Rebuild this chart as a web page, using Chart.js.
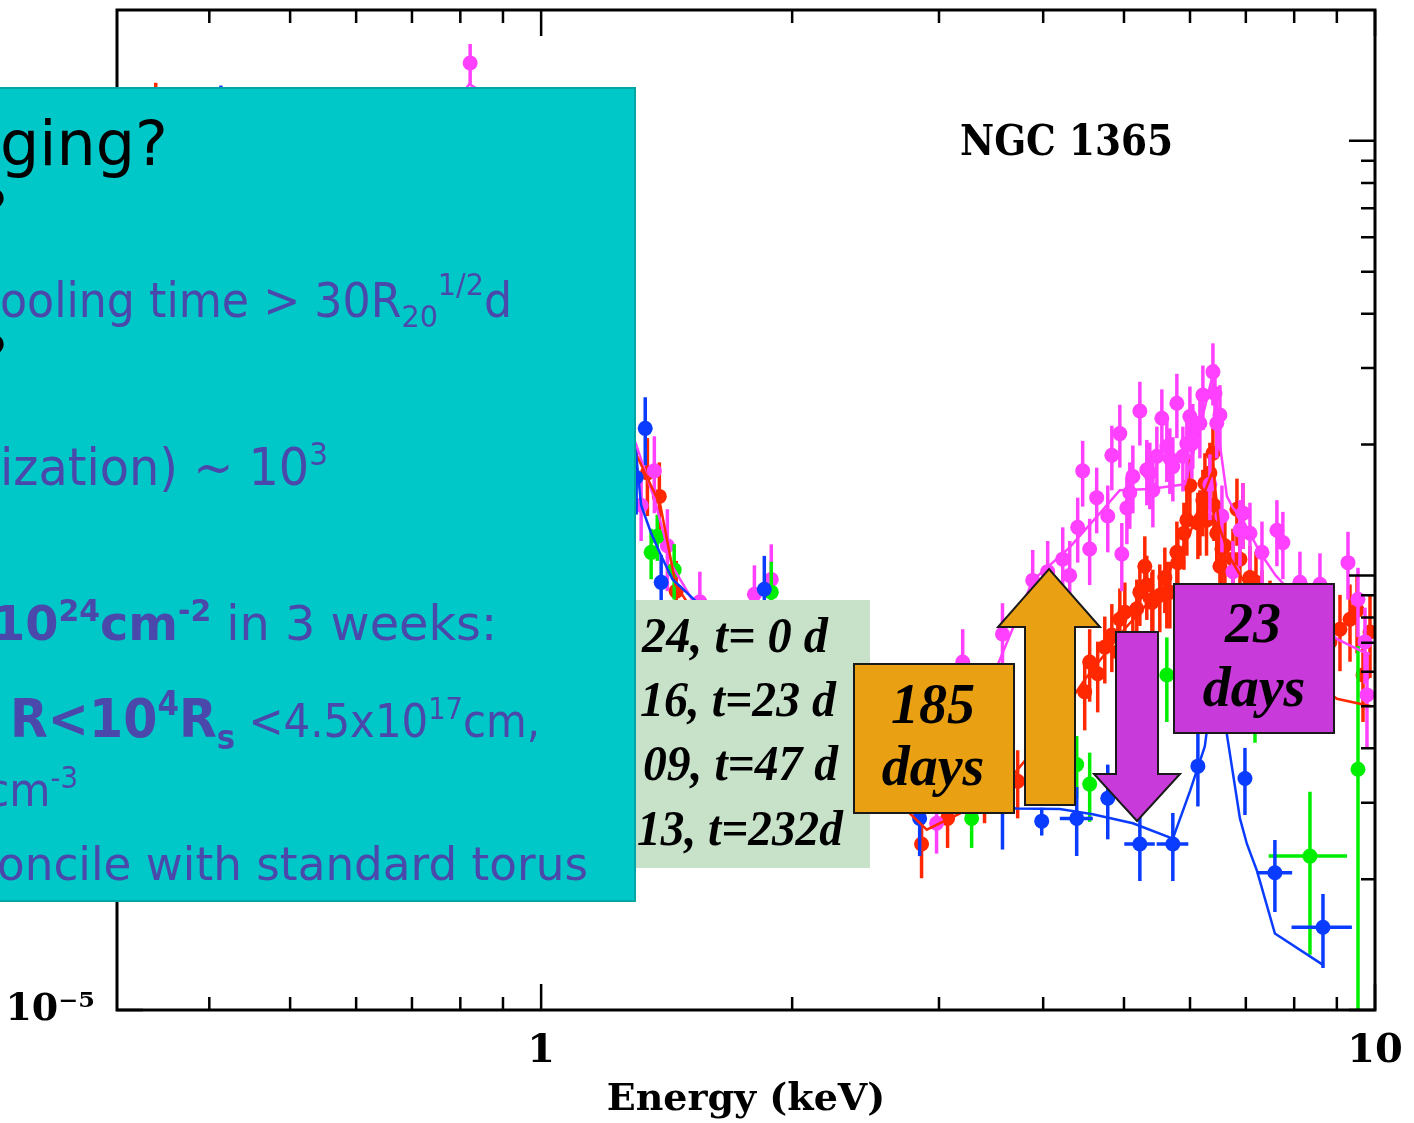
<!DOCTYPE html>
<html>
<head>
<meta charset="utf-8">
<title>NGC 1365</title>
<script src="https://cdn.jsdelivr.net/npm/chart.js@4.4.1/dist/chart.umd.min.js"></script>
<style>
  body { margin: 0; background: #fff; }
  #wrap { position: relative; width: 1414px; height: 1123px; overflow: hidden; }
  #plot { position: absolute; left: 0; top: 0; }
  #slide { position: absolute; left: 0; top: 0; }
</style>
</head>
<body>
<div id="wrap">
  <canvas id="plot" width="1414" height="1123"></canvas>
  <svg id="slide" width="1414" height="1123"></svg>
</div>
<script>
// spectra: energy (keV), flux, flux error, energy half-width
const redEnergy = [0.345, 0.512, 0.639, 0.734, 0.910, 1.051, 1.174, 1.240, 1.341, 1.386, 1.452, 1.636, 1.888, 2.343, 2.859, 3.072, 3.402, 3.728, 4.050, 4.486, 4.548, 4.650, 4.742, 4.835, 4.916, 5.012, 5.124, 5.224, 5.296, 5.400, 5.520, 5.597, 5.675, 5.802, 5.948, 5.998, 6.132, 6.217, 6.280, 6.339, 6.392, 6.460, 6.517, 6.607, 6.830, 6.887, 6.944, 7.080, 7.199, 7.319, 7.483, 7.648, 7.798, 7.950, 8.128, 8.310, 8.472, 8.638, 8.831, 9.078, 9.333, 9.516, 9.674, 9.863,
    5.786, 5.90, 6.166, 6.252, 6.41, 6.553, 6.755, 5.415, 5.628, 5.325, 5.18, 4.943];
const redFlux = [1.09e-3, 4.2e-4, 7.1e-4, 9.3e-4, 1.15e-3, 5.5e-4, 3.2e-4, 2.5e-4, 1.72e-4, 1.52e-4, 9.2e-5, 7.0e-5, 8.2e-5, 3.7e-5, 2.41e-5, 2.76e-5, 3.19e-5, 3.36e-5, 4.15e-5, 5.40e-5, 6.32e-5, 5.94e-5, 6.84e-5, 7.29e-5, 6.67e-5, 8.23e-5, 7.14e-5, 9.15e-5, 1.05e-4, 8.67e-5, 9.0e-5, 9.89e-5, 9.15e-5, 1.07e-4, 1.34e-4, 1.61e-4, 1.32e-4, 1.49e-4, 1.34e-4, 1.72e-4, 1.91e-4, 1.25e-4, 1.05e-4, 1.17e-4, 1.42e-4, 1.09e-4, 1.39e-4, 9.89e-5, 9.64e-5, 8.67e-5, 8.23e-5, 7.81e-5, 7.41e-5, 8.02e-5, 7.03e-5, 6.67e-5, 7.41e-5, 6.84e-5, 7.03e-5, 7.52e-5, 7.93e-5, 8.32e-5, 5.90e-5, 7.41e-5,
    1.13e-4, 1.25e-4, 1.34e-4, 1.63e-4, 1.45e-4, 1.15e-4, 1.09e-4, 8.81e-5, 9.15e-5, 9.5e-5, 8.38e-5, 7.93e-5];
const redErr = [2.7e-4, 8e-5, 1.2e-4, 1.5e-4, 1.4e-4, 9e-5, 6e-5, 4.5e-5, 3.5e-5, 3.0e-5, 1.6e-5, 1.4e-5, 1.6e-5, 7e-6, 4e-6, 4e-6, 5e-6, 6e-6, 8e-6, 1.0e-5, 1.2e-5, 1.1e-5, 1.2e-5, 1.3e-5, 1.2e-5, 1.4e-5, 1.3e-5, 1.5e-5, 1.8e-5, 1.5e-5, 1.6e-5, 1.7e-5, 1.6e-5, 1.9e-5, 2.3e-5, 2.8e-5, 2.3e-5, 2.6e-5, 2.3e-5, 3.0e-5, 3.4e-5, 2.2e-5, 1.9e-5, 2.1e-5, 2.5e-5, 1.9e-5, 2.4e-5, 1.8e-5, 1.7e-5, 1.6e-5, 1.5e-5, 1.4e-5, 1.4e-5, 1.5e-5, 1.3e-5, 1.3e-5, 1.4e-5, 1.3e-5, 1.4e-5, 1.5e-5, 1.6e-5, 1.7e-5, 1.3e-5, 1.6e-5,
    2e-5, 2.2e-5, 2.3e-5, 2.8e-5, 2.5e-5, 2e-5, 1.9e-5, 1.5e-5, 1.6e-5, 1.6e-5, 1.4e-5, 1.4e-5];

const magEnergy = [0.512, 0.639, 0.734, 0.822, 1.051, 1.174, 1.240, 1.318, 1.367, 1.417, 1.55, 1.802, 1.888, 2.343, 2.980, 3.203, 3.575, 3.886, 4.050, 4.222, 4.304, 4.400, 4.461, 4.548, 4.637, 4.781, 4.835, 4.943, 4.970, 5.081, 5.224, 5.370, 5.475, 5.551, 5.675, 5.786, 5.883, 6.031, 6.217, 6.339, 6.392, 6.428, 6.517, 6.553, 6.755, 6.944, 7.080, 7.319, 7.627, 7.754, 8.128, 8.590, 9.281, 9.541, 9.727, 9.781,
    5.124, 5.325, 5.628, 5.948, 6.047, 6.166, 5.415, 5.722, 5.998, 6.46, 6.887, 5.04];
const magFlux = [4.7e-4, 7.6e-4, 9.8e-4, 1.51e-3, 5.8e-4, 3.6e-4, 2.75e-4, 1.45e-4, 1.74e-4, 1.17e-4, 8.7e-5, 9.05e-5, 9.79e-5, 4.6e-5, 2.69e-5, 6.32e-5, 7.33e-5, 9.74e-5, 1.02e-4, 1.09e-4, 1.0e-4, 1.29e-4, 1.74e-4, 1.15e-4, 1.51e-4, 1.37e-4, 1.89e-4, 2.12e-4, 1.12e-4, 1.55e-4, 2.39e-4, 1.72e-4, 1.88e-4, 2.30e-4, 1.86e-4, 2.49e-4, 1.88e-4, 2.01e-4, 2.60e-4, 1.62e-4, 2.94e-4, 2.62e-4, 2.34e-4, 1.37e-4, 1.02e-4, 1.39e-4, 1.25e-4, 1.13e-4, 1.27e-4, 1.19e-4, 9.64e-5, 9.54e-5, 1.07e-4, 8.81e-5, 7.03e-5, 5.31e-5,
    1.69e-4, 1.75e-4, 1.98e-4, 2.01e-4, 2.12e-4, 2.24e-4, 1.57e-4, 1.78e-4, 2.32e-4, 2.24e-4, 1.27e-4, 1.43e-4];
const magErr = [9e-5, 1.3e-4, 1.6e-4, 1.6e-4, 1e-4, 6e-5, 5e-5, 2.5e-5, 3.5e-5, 2.5e-5, 1.5e-5, 1.5e-5, 2.0e-5, 8e-6, 4e-6, 1.2e-5, 1.3e-5, 1.7e-5, 1.8e-5, 2.0e-5, 2.0e-5, 2.2e-5, 3.0e-5, 2.0e-5, 2.6e-5, 2.4e-5, 3.2e-5, 3.5e-5, 2.0e-5, 2.7e-5, 4.0e-5, 3.0e-5, 3.2e-5, 3.8e-5, 3.2e-5, 4.2e-5, 3.2e-5, 3.4e-5, 4.4e-5, 2.8e-5, 4.8e-5, 4.4e-5, 4.0e-5, 2.4e-5, 1.8e-5, 2.4e-5, 2.2e-5, 2.0e-5, 2.2e-5, 2.1e-5, 1.7e-5, 1.7e-5, 1.9e-5, 1.6e-5, 1.4e-5, 1.3e-5,
    3e-5, 3e-5, 3.4e-5, 3.4e-5, 3.6e-5, 3.8e-5, 2.8e-5, 3e-5, 4e-5, 3.8e-5, 2.2e-5, 2.5e-5];

const blueEnergy = [0.413, 0.512, 0.639, 0.734, 0.910, 1.051, 1.174, 1.240, 1.300, 1.333, 1.393, 1.852, 2.343, 2.844, 3.575, 3.984, 4.388, 4.781, 5.224, 5.722, 6.132, 6.428, 6.983, 7.585, 8.662];
const blueFlux = [1.15e-3, 4.4e-4, 6.5e-4, 8.5e-4, 9.3e-4, 5.2e-4, 3.1e-4, 2.12e-4, 1.68e-4, 2.18e-4, 9.64e-5, 9.29e-5, 3.19e-5, 2.76e-5, 2.94e-5, 2.72e-5, 2.76e-5, 3.07e-5, 2.41e-5, 2.41e-5, 3.64e-5, 6.67e-5, 3.41e-5, 2.07e-5, 1.55e-5];
const blueErr = [1.9e-4, 9e-5, 1.2e-4, 1.4e-4, 1.4e-4, 9e-5, 6e-5, 4e-5, 3e-5, 3.9e-5, 1.5e-5, 1.8e-5, 6e-6, 5e-6, 6e-6, 2e-6, 5e-6, 6e-6, 4.3e-6, 4.3e-6, 7e-6, 1.5e-5, 6e-6, 3.9e-6, 3e-6];
const blueEnergyErr = [0, 0, 0, 0, 0, 0, 0, 0, 0, 0, 0, 0, 0, 0, 0, 0, 0.2, 0, 0.22, 0.25, 0, 0, 0, 0.37, 0.72];

const greenEnergy = [0.512, 0.734, 0.910, 1.174, 1.355, 1.378, 1.444, 1.888, 2.343, 3.283, 4.388, 4.548, 5.628, 6.428, 7.179, 8.356, 9.541];
const greenFlux = [3.8e-4, 7.6e-4, 8.9e-4, 2.76e-4, 1.13e-4, 1.23e-4, 1.03e-4, 9.15e-5, 3.54e-5, 2.76e-5, 3.67e-5, 3.31e-5, 5.90e-5, 7.8e-5, 5.12e-5, 2.26e-5, 3.58e-5];
const greenErr = [8e-5, 1.4e-4, 1.5e-4, 5e-5, 1.5e-5, 1.5e-5, 1.5e-5, 1.6e-5, 8e-6, 4e-6, 6e-6, 6e-6, 1.3e-5, 1.8e-5, 1.0e-5, 9.2e-6, 3.3e-5];
const greenEnergyErr = [0, 0, 0, 0, 0, 0, 0, 0, 0, 0, 0, 0, 0, 0, 0, 0.9, 0];

// folded model curves
const redModelEnergy = [0.31, 0.345, 0.41, 0.51, 0.64, 0.73, 0.82, 0.91, 1.05, 1.17, 1.30, 1.39, 1.45, 1.54, 1.80, 1.85, 1.90, 2.30, 2.90, 3.50, 4.00, 4.50, 5.00, 5.50, 6.00, 6.20, 6.40, 6.50, 6.70, 7.00, 7.50, 8.00, 9.00, 9.90];
const redModelFlux = [1.0e-3, 1.05e-3, 9.0e-4, 4.3e-4, 7.0e-4, 9.0e-4, 1.1e-3, 1.1e-3, 5.3e-4, 3.2e-4, 1.9e-4, 1.45e-4, 9.5e-5, 8.0e-5, 8.0e-5, 8.5e-5, 7.5e-5, 4.0e-5, 2.6e-5, 3.1e-5, 4.2e-5, 5.8e-5, 7.5e-5, 9.2e-5, 1.25e-4, 1.5e-4, 1.75e-4, 1.3e-4, 1.1e-4, 9.5e-5, 8.2e-5, 6.2e-5, 5.2e-5, 5.0e-5];
const blueModelEnergy = [0.31, 0.345, 0.41, 0.51, 0.64, 0.73, 0.82, 0.91, 1.05, 1.17, 1.30, 1.318, 1.355, 1.393, 1.437, 1.535, 1.80, 1.85, 1.90, 2.30, 2.90, 3.717, 4.187, 4.586, 5.124, 5.722, 6.00, 6.25, 6.40, 6.55, 6.644, 6.887, 7.021, 7.219, 7.585, 8.662];
const blueModelFlux = [1.0e-3, 1.05e-3, 9.5e-4, 4.4e-4, 6.6e-4, 8.6e-4, 1.0e-3, 9.5e-4, 5.1e-4, 3.1e-4, 1.9e-4, 1.45e-4, 1.25e-4, 1.11e-4, 9.8e-5, 8.7e-5, 8.2e-5, 8.5e-5, 8.0e-5, 4.2e-5, 3.0e-5, 2.91e-5, 2.90e-5, 2.82e-5, 2.69e-5, 2.48e-5, 3.19e-5, 4.04e-5, 5.7e-5, 5.1e-5, 4.30e-5, 2.76e-5, 2.41e-5, 2.09e-5, 1.50e-5, 1.27e-5];
const magModelEnergy = [0.31, 0.41, 0.51, 0.64, 0.73, 0.82, 0.91, 1.05, 1.17, 1.30, 1.367, 1.437, 1.55, 1.85, 2.30, 2.90, 3.50, 3.886, 4.304, 4.677, 4.943, 5.37, 5.916, 6.17, 6.39, 6.517, 6.644, 6.755, 6.944, 7.08, 7.279, 7.60, 8.00, 9.00, 9.674, 9.86];
const magModelFlux = [1.1e-3, 1.0e-3, 4.7e-4, 7.5e-4, 1.0e-3, 1.35e-3, 1.2e-3, 5.8e-4, 3.5e-4, 2.0e-4, 1.5e-4, 1.05e-4, 8.2e-5, 8.4e-5, 5.0e-5, 4.3e-5, 6.0e-5, 9.74e-5, 1.16e-4, 1.39e-4, 1.57e-4, 1.58e-4, 1.62e-4, 2.2e-4, 2.9e-4, 2.0e-4, 1.52e-4, 1.43e-4, 1.34e-4, 1.25e-4, 1.13e-4, 1.0e-4, 9.0e-5, 7.14e-5, 6.67e-5, 6.6e-5];

// axis ticks
const xLabelTicks = [1, 10];
const xLabelText = ['1', '10'];
const xMinorTicks = [0.4, 0.5, 0.6, 0.7, 0.8, 0.9, 2, 3, 4, 5, 6, 7, 8, 9];
const yMajorTicks = [1e-5, 1e-4, 1e-3];
const yLabelText = ['10⁻⁵', '10⁻⁴', '10⁻³'];
const yMinorTicks = [2e-5, 3e-5, 4e-5, 5e-5, 6e-5, 7e-5, 8e-5, 9e-5, 2e-4, 3e-4, 4e-4, 5e-4, 6e-4, 7e-4, 8e-4, 9e-4];

const legendLabels = ['24, t= 0 d', '16, t=23 d', '09, t=47 d', '13, t=232d'];

const RED = '#ff2800', MAG = '#ff40ff', BLUE = '#0a3cff', GREEN = '#00ee00';
const plotFont = "'DejaVu Serif', serif";

function pts(xs, ys) { return xs.map((x, i) => ({ x: x, y: ys[i] })); }

function spectrum(label, xs, ys, err, xerr, color) {
    return {
        label: label, data: pts(xs, ys), yErr: err, xErr: xerr,
        backgroundColor: color, borderColor: color, borderWidth: 0,
        pointRadius: 7.5, pointHoverRadius: 7.5, showLine: false
    };
}
function model(label, xs, ys, color) {
    return {
        label: label, data: pts(xs, ys), borderColor: color, backgroundColor: color,
        borderWidth: 2.5, pointRadius: 0, showLine: true, fill: false, tension: 0
    };
}

// error bars go under each dataset's own points
const errorBars = {
    id: 'errorBars',
    beforeDatasetDraw(chart, args) {
        const ds = chart.data.datasets[args.index];
        if (!ds.yErr) return;
        const { ctx, chartArea: a } = chart;
        const x = chart.scales.x, y = chart.scales.y;
        ctx.save();
        ctx.beginPath();
        ctx.rect(a.left, a.top, a.right - a.left, a.bottom - a.top);
        ctx.clip();
        ctx.strokeStyle = ds.backgroundColor;
        ctx.lineWidth = 3.5;
        ds.data.forEach((p, i) => {
            const px = x.getPixelForValue(p.x), py = y.getPixelForValue(p.y);
            const lo = Math.max(p.y - ds.yErr[i], 1e-7);
            ctx.beginPath();
            ctx.moveTo(px, y.getPixelForValue(lo));
            ctx.lineTo(px, y.getPixelForValue(p.y + ds.yErr[i]));
            const xe = ds.xErr ? ds.xErr[i] : 0;
            if (xe) {
                ctx.moveTo(x.getPixelForValue(p.x - xe), py);
                ctx.lineTo(x.getPixelForValue(p.x + xe), py);
            }
            ctx.stroke();
        });
        ctx.restore();
    }
};

// box with inward ticks on all four sides
const frame = {
    id: 'frame',
    afterDatasetsDraw(chart) {
        const { ctx, chartArea: a } = chart;
        const x = chart.scales.x, y = chart.scales.y;
        ctx.save();
        ctx.strokeStyle = '#000';
        ctx.lineWidth = 2.5;
        ctx.beginPath();
        const tickX = (v, len) => {
            const px = x.getPixelForValue(v);
            ctx.moveTo(px, a.bottom); ctx.lineTo(px, a.bottom - len);
            ctx.moveTo(px, a.top); ctx.lineTo(px, a.top + len);
        };
        const tickY = (v, len) => {
            const py = y.getPixelForValue(v);
            ctx.moveTo(a.left, py); ctx.lineTo(a.left + len, py);
            ctx.moveTo(a.right, py); ctx.lineTo(a.right - len, py);
        };
        xLabelTicks.forEach(v => tickX(v, 26));
        xMinorTicks.forEach(v => tickX(v, 13));
        yMajorTicks.forEach(v => tickY(v, 26));
        yMinorTicks.forEach(v => tickY(v, 14));
        ctx.stroke();
        ctx.lineWidth = 3;
        ctx.strokeRect(a.left, a.top, a.right - a.left, a.bottom - a.top);
        ctx.restore();
    }
};

function noPad(s) { s.paddingTop = 0; s.paddingBottom = 0; s.paddingLeft = 0; s.paddingRight = 0; }

const ctx = document.getElementById('plot').getContext('2d');
const chart = new Chart(ctx, {
    type: 'scatter',
    data: {
        datasets: [
            model('t=23 d model', blueModelEnergy, blueModelFlux, BLUE),
            model('t= 0 d model', redModelEnergy, redModelFlux, RED),
            model('t=232d model', magModelEnergy, magModelFlux, MAG),
            spectrum('t=23 d', blueEnergy, blueFlux, blueErr, blueEnergyErr, BLUE),
            spectrum('t=47 d', greenEnergy, greenFlux, greenErr, greenEnergyErr, GREEN),
            spectrum('t=232d', magEnergy, magFlux, magErr, null, MAG),
            spectrum('t= 0 d', redEnergy, redFlux, redErr, null, RED)
        ]
    },
    options: {
        responsive: false,
        animation: false,
        devicePixelRatio: 1,
        layout: { padding: { top: 10, right: 39, left: 0, bottom: 0 } },
        plugins: { legend: { display: false }, tooltip: { enabled: false } },
        scales: {
            x: {
                type: 'logarithmic', min: 0.31, max: 10, bounds: 'data',
                grid: { display: false, drawTicks: false },
                border: { display: false },
                afterBuildTicks: s => { s.ticks = xLabelTicks.map(v => ({ value: v })); },
                afterFit: s => { s.height = 113; noPad(s); },
                ticks: {
                    autoSkip: false, maxRotation: 0, padding: 18, color: '#000',
                    font: { family: plotFont, weight: 'bold', size: 40 },
                    callback: v => xLabelText[xLabelTicks.indexOf(v)]
                },
                title: {
                    display: true, text: 'Energy (keV)', color: '#000', padding: 0,
                    font: { family: plotFont, weight: 'bold', size: 38 }
                }
            },
            y: {
                type: 'logarithmic', min: 1e-5, max: 2e-3, bounds: 'data',
                grid: { display: false, drawTicks: false },
                border: { display: false },
                afterBuildTicks: s => { s.ticks = yMajorTicks.map(v => ({ value: v })); },
                afterFit: s => { s.width = 117; noPad(s); },
                ticks: {
                    autoSkip: false, padding: 22, color: '#000',
                    font: { family: plotFont, weight: 'bold', size: 38 },
                    callback: v => yLabelText[yMajorTicks.indexOf(v)]
                }
            }
        }
    },
    plugins: [errorBars, frame]
});

// slide annotations laid over the plot
const NS = 'http://www.w3.org/2000/svg';
const svg = document.getElementById('slide');
function el(tag, attrs, html) {
    const e = document.createElementNS(NS, tag);
    for (const k in attrs) e.setAttribute(k, attrs[k]);
    if (html !== undefined) e.innerHTML = html;
    svg.appendChild(e);
    return e;
}
const ORANGE = '#e9a013', PURPLE = '#c83ad9', CYAN = '#00c8c8', INK = '#4a48aa';
const serifBI = { 'font-family': 'Liberation Serif, Times New Roman, serif', 'font-weight': 'bold', 'font-style': 'italic', fill: '#000' };

el('text', { x: 960, y: 155, 'font-family': 'DejaVu Serif, serif', 'font-weight': 'bold', 'font-size': 42, textLength: 213, lengthAdjust: 'spacingAndGlyphs' }, 'NGC 1365');

// legend box
el('rect', { x: 600, y: 600, width: 270, height: 268, fill: '#c8e2ca' });
const legendX = [642, 640, 643, 637], legendEnd = [828, 836, 838, 843], legendBase = [652, 716, 780, 845];
legendLabels.forEach((t, i) => {
    el('text', Object.assign({ x: legendX[i], y: legendBase[i], 'font-size': 50, textLength: legendEnd[i] - legendX[i], lengthAdjust: 'spacingAndGlyphs' }, serifBI), t);
});

// 185 days box + up arrow
el('rect', { x: 854, y: 664, width: 160, height: 149, fill: ORANGE, stroke: '#1a1a1a', 'stroke-width': 2 });
el('text', Object.assign({ x: 933, y: 723, 'font-size': 56, 'text-anchor': 'middle' }, serifBI), '185');
el('text', Object.assign({ x: 933, y: 785, 'font-size': 56, 'text-anchor': 'middle' }, serifBI), 'days');
el('polygon', { points: '1025,805 1075,805 1075,627 1100,627 1049,569 998,627 1025,627', fill: ORANGE, stroke: '#1a1a1a', 'stroke-width': 2 });

// 23 days box + down arrow
el('polygon', { points: '1116,632 1158,632 1158,774 1180,774 1137,821 1094,774 1116,774', fill: PURPLE, stroke: '#1a1a1a', 'stroke-width': 2 });
el('rect', { x: 1174, y: 584, width: 160, height: 149, fill: PURPLE, stroke: '#1a1a1a', 'stroke-width': 2 });
el('text', Object.assign({ x: 1253, y: 642, 'font-size': 56, 'text-anchor': 'middle' }, serifBI), '23');
el('text', Object.assign({ x: 1254, y: 706, 'font-size': 56, 'text-anchor': 'middle' }, serifBI), 'days');

// cyan text panel
el('rect', { x: -3, y: 88, width: 638, height: 813, fill: CYAN, stroke: '#00a6a6', 'stroke-width': 2 });
const sans = { 'font-family': 'DejaVu Sans, sans-serif', lengthAdjust: 'spacingAndGlyphs' };
el('text', Object.assign({ x: 0, y: 165, 'font-size': 62, fill: '#000', textLength: 168 }, sans), 'ging?');
el('text', Object.assign({ x: -24, y: 233, 'font-size': 60, fill: '#000' }, sans), '?');
el('text', Object.assign({ x: 0, y: 317, 'font-size': 48, fill: INK, textLength: 512 }, sans),
   'ooling time &gt; 30R<tspan font-size="31" dy="10">20</tspan><tspan font-size="31" dy="-32">1/2</tspan><tspan dy="22">d</tspan>');
el('text', Object.assign({ x: -24, y: 379, 'font-size': 60, fill: '#000' }, sans), '?');
el('text', Object.assign({ x: 0, y: 485, 'font-size': 52, fill: INK, textLength: 328 }, sans),
   'ization) ~ 10<tspan font-size="32" dy="-20">3</tspan>');
el('text', Object.assign({ x: -8, y: 640, 'font-size': 48, fill: INK, textLength: 505 }, sans),
   '<tspan font-weight="bold">10</tspan><tspan font-weight="bold" font-size="30" dy="-19">24</tspan><tspan font-weight="bold" dy="19">cm</tspan><tspan font-weight="bold" font-size="30" dy="-19">-2</tspan><tspan dy="19"> in 3 weeks:</tspan>');
el('text', Object.assign({ x: 10, y: 737, 'font-size': 46, fill: INK, textLength: 530 }, sans),
   '<tspan font-weight="bold" font-size="54">R&lt;10</tspan><tspan font-weight="bold" font-size="34" dy="-22">4</tspan><tspan font-weight="bold" font-size="54" dy="22">R</tspan><tspan font-weight="bold" font-size="34" dy="12">s</tspan><tspan dy="-12"> &lt;4.5x10</tspan><tspan font-size="30" dy="-18">17</tspan><tspan dy="18">cm,</tspan>');
el('text', Object.assign({ x: -14, y: 806, 'font-size': 46, fill: INK, textLength: 92 }, sans),
   'cm<tspan font-size="30" dy="-18">-3</tspan>');
el('text', Object.assign({ x: -3, y: 880, 'font-size': 46, fill: INK, textLength: 591 }, sans), 'oncile with standard torus');
</script>
</body>
</html>
